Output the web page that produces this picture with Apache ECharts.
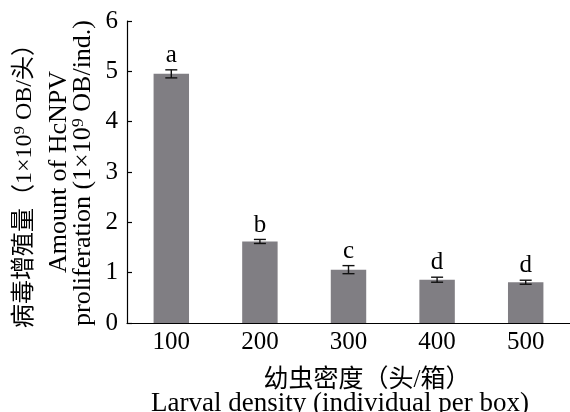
<!DOCTYPE html>
<html>
<head>
<meta charset="utf-8">
<script src="https://cdn.jsdelivr.net/npm/echarts@6/dist/echarts.min.js"></script>
<style>
  html, body { margin: 0; padding: 0; background: #fff; }
  #chart { width: 570px; height: 412px; }
</style>
</head>
<body>
<div id="chart"></div>
<script>
// larval density per box
var categories = ['100', '200', '300', '400', '500'];
// virus proliferation, 1x10^9 OB per larva
var means = [4.95, 1.62, 1.06, 0.86, 0.81];
var errors = [0.08, 0.04, 0.08, 0.05, 0.04];
var letters = ['a', 'b', 'c', 'd', 'd'];
var yTicks = [0, 1, 2, 3, 4, 5, 6];

var serif = '"Liberation Serif", "Noto Sans CJK SC", serif';

var chart = echarts.init(document.getElementById('chart'));

var errData = means.map(function (m, i) { return [i, m, errors[i], letters[i]]; });

chart.setOption({
  animation: false,
  grid: { left: 127, top: 21, width: 455, height: 302 },
  xAxis: {
    type: 'category',
    data: categories,
    axisLine: { lineStyle: { color: '#000', width: 1.2 } },
    axisTick: { show: false },
    axisLabel: { color: '#000', fontFamily: serif, fontSize: 25, margin: 7 }
  },
  yAxis: {
    type: 'value',
    min: yTicks[0],
    max: yTicks[yTicks.length - 1],
    interval: 1,
    splitLine: { show: false },
    axisLine: { show: true, lineStyle: { color: '#000', width: 1.2 } },
    axisTick: { show: true, inside: true, length: 5, lineStyle: { color: '#000', width: 1.2 } },
    axisLabel: { color: '#000', fontFamily: serif, fontSize: 25, margin: 9 }
  },
  graphic: [
    { type: 'text', x: 25, y: 180, rotation: Math.PI / 2,
      style: { text: '病毒增殖量（1×10⁹ OB/头）', font: '24px ' + serif, fill: '#000', align: 'center', verticalAlign: 'middle' } },
    { type: 'text', x: 59, y: 172, rotation: Math.PI / 2,
      style: { text: 'Amount of HcNPV', font: '26px ' + serif, fill: '#000', align: 'center', verticalAlign: 'middle' } },
    { type: 'text', x: 83, y: 173, rotation: Math.PI / 2,
      style: { text: 'proliferation (1×10⁹ OB/ind.)', font: '26px ' + serif, fill: '#000', align: 'center', verticalAlign: 'middle' } },
    { type: 'text', x: 367, y: 380,
      style: { text: '幼虫密度（头/箱）', font: '25px ' + serif, fill: '#000', align: 'center', verticalAlign: 'middle' } },
    { type: 'text', x: 340, y: 404,
      style: { text: 'Larval density (individual per box)', font: '27px ' + serif, fill: '#000', align: 'center', verticalAlign: 'middle' } }
  ],
  series: [
    {
      type: 'bar',
      data: means,
      barWidth: '40%',
      itemStyle: { color: '#807e83' }
    },
    {
      type: 'custom',
      data: errData,
      z: 5,
      renderItem: function (params, api) {
        var i = api.value(0), m = api.value(1), e = api.value(2);
        var top = api.coord([i, m + e]);
        var bot = api.coord([i, m - e]);
        var hw = 6;
        var st = { stroke: '#111', lineWidth: 1.4 };
        return {
          type: 'group',
          children: [
            { type: 'line', shape: { x1: top[0], y1: top[1], x2: bot[0], y2: bot[1] }, style: st },
            { type: 'line', shape: { x1: top[0] - hw, y1: top[1], x2: top[0] + hw, y2: top[1] }, style: st },
            { type: 'line', shape: { x1: bot[0] - hw, y1: bot[1], x2: bot[0] + hw, y2: bot[1] }, style: st },
            { type: 'text', x: top[0], y: top[1] - 2,
              style: { text: letters[i], font: '25px ' + serif, fill: '#000', align: 'center', verticalAlign: 'bottom' } }
          ]
        };
      }
    }
  ]
});
</script>
</body>
</html>
